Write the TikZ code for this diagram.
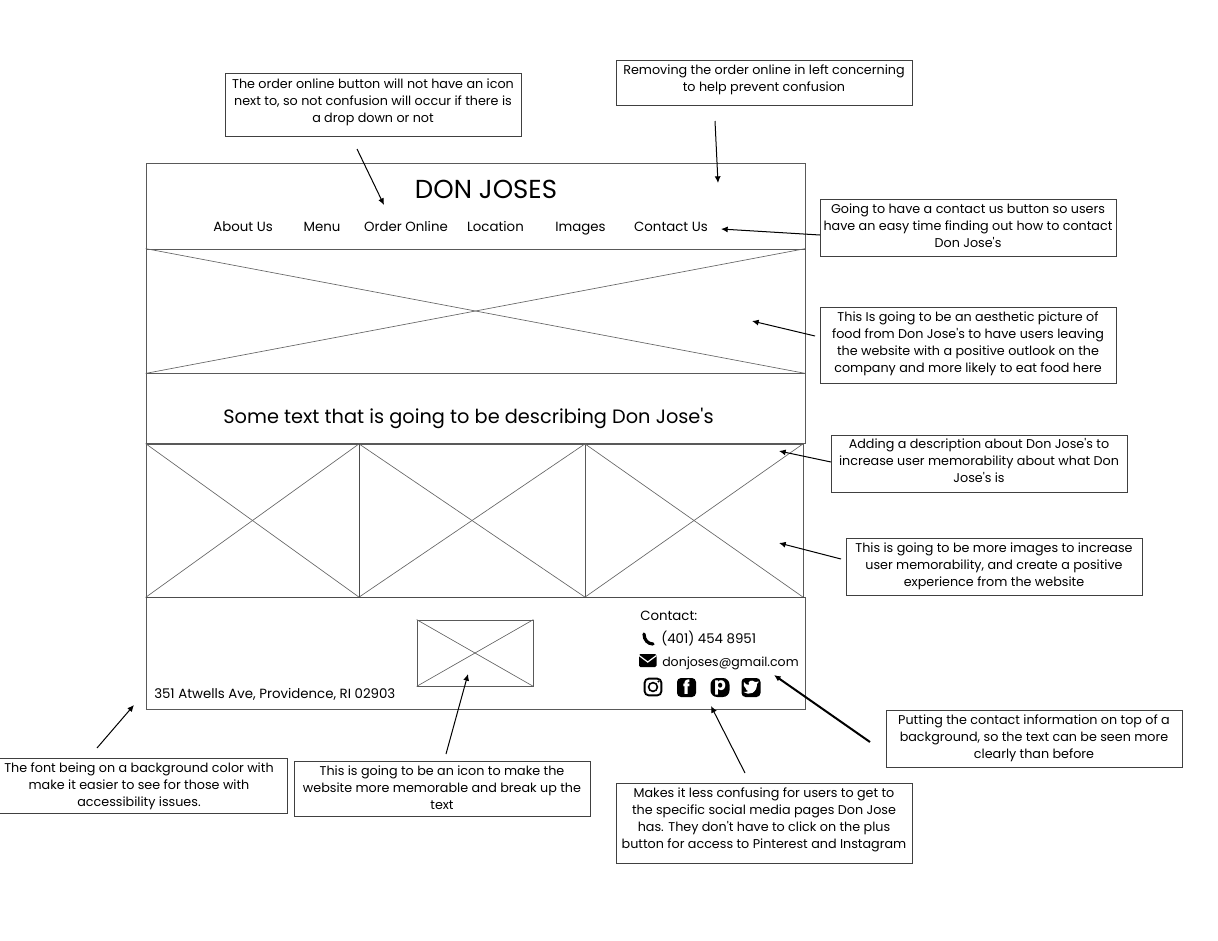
\documentclass[tikz,border=0pt]{standalone}
\usepackage{fontspec}
\setmainfont{Poppins}[Ligatures=TeXOff]
\usetikzlibrary{arrows.meta}
\tikzstyle{note} = [rectangle, draw=black!75, line width=0.45pt, inner sep=0pt, minimum width=222pt, align=center, text depth=7pt, font=\fontsize{9.55}{12.7}\selectfont, text=black]
\tikzstyle{panel} = [rectangle, draw=black!65, line width=0.6pt, inner sep=0pt]
\tikzstyle{crossline} = [draw=black!60, line width=0.5pt]
\tikzstyle{menuitem} = [inner sep=0pt, text height=8pt, text depth=2pt, font=\fontsize{10}{12}\selectfont]
\tikzstyle{contactitem} = [anchor=west, inner sep=0pt, text height=8pt, text depth=2pt, font=\fontsize{10}{12}\selectfont]
\tikzstyle{icon} = [rectangle, rounded corners=3pt, inner sep=0pt, minimum width=14.25pt, minimum height=14.25pt]
\tikzstyle{arrow} = [line width=0.75pt, -{Latex[length=5pt,width=4.5pt]}]
\begin{document}
\begin{tikzpicture}[x=0.75pt, y=-0.75pt]
    \useasboundingbox (0,0) rectangle (1218,940);
    % wireframe
    \node (header) [panel, minimum width=494.25pt, minimum height=64.5pt] at (475.5,206) {};
    \node (hero) [panel, minimum width=494.25pt, minimum height=93pt] at (475.5,311) {};
    \node (desc) [panel, minimum width=494.25pt, minimum height=52.5pt] at (475.5,408.5) {};
    \node (imga) [panel, minimum width=159.75pt, minimum height=114.75pt] at (252.5,520.5) {};
    \node (imgb) [panel, minimum width=169.5pt, minimum height=114.75pt] at (472,520.5) {};
    \node (imgc) [panel, minimum width=163.5pt, minimum height=114.75pt] at (694,520.5) {};
    \node (footer) [panel, minimum width=494.25pt, minimum height=84pt] at (475.5,653) {};
    \node (logo) [panel, minimum width=87pt, minimum height=49.5pt] at (475,653) {};
    \foreach \pic in {hero, imga, imgb, imgc, logo} {
        \draw[crossline] (\pic.north west) -- (\pic.south east);
        \draw[crossline] (\pic.south west) -- (\pic.north east);
    }
    \draw[line width=1pt, draw=black!70] (imga.south west) -- (imgc.south east -| footer.east);
    \draw[line width=0.8pt, draw=black!70] (imga.north east) -- (imga.south east);

    % texts in the wireframe
    \node (title) [inner sep=0pt, font=\fontsize{19.5}{22}\selectfont] at (486,189) {DON JOSES};
    \node (about) [menuitem] at (243,227.5) {About Us};
    \node (menu) [menuitem] at (322,227.5) {Menu};
    \node (order) [menuitem] at (406,227.5) {Order Online};
    \node (location) [menuitem] at (495.5,227.5) {Location};
    \node (images) [menuitem] at (580.5,227.5) {Images};
    \node (contactus) [menuitem] at (671,227.5) {Contact Us};
    \node (blurb) [inner sep=0pt, font=\fontsize{14.5}{18}\selectfont] at (468.5,418) {Some text that is going to be describing Don Jose's};
    \node (address) [contactitem] at (154,694) {351 Atwells Ave, Providence, RI 02903};
    \node (contact) [contactitem] at (640,616) {Contact:};
    \node (phone) [contactitem] at (661,639.5) {(401) 454 8951};
    \node (email) [contactitem, font=\fontsize{9.4}{12}\selectfont] at (662,662) {donjoses@gmail.com};

    % contact icons
    \draw[line width=2.4pt, line cap=round, black] (644,634) .. controls (644,640) and (648,644) .. (653,644);
    \fill[black, rounded corners=1pt] (639,654) rectangle (656.5,667);
    \draw[white, line width=0.9pt] (639,655.5) -- (647.75,662) -- (656.5,655.5);
    \node (insta) [icon, draw=black, line width=1.4pt, minimum width=12.5pt, minimum height=12.5pt] at (653,687) {};
    \draw[black, line width=1.2pt] (insta) circle (4.4);
    \fill[black] (658.5,681.5) circle (1.2);
    \node (fbook) [icon, fill=black, text=white, font=\fontsize{14}{14}\bfseries\selectfont] at (686.5,687.5) {f};
    \node (pin) [icon, rounded corners=5pt, fill=black, text=white, text height=7pt, text depth=2pt, font=\fontsize{13}{13}\bfseries\selectfont] at (720,687.5) {p};
    \node (bird) [icon, fill=black] at (751,687.5) {};
    \fill[white] (743.5,692) .. controls (749,696) and (757,693) .. (757,684) -- (759,681.5) -- (755,682) .. controls (752,679) and (747,681) .. (749,685) .. controls (747,685) and (745,684) .. (744,682) .. controls (743,685) and (744,687) .. (745.5,688) .. controls (746,690) and (747,691) .. (748.5,691) .. controls (747,692) and (745,692) .. (743.5,692) -- cycle;

    % notes
    \node (noteorder) [note, minimum height=47.25pt, text depth=5.5pt] at (373,104.5) {The order online button will not have an icon\\next to, so not confusion will occur if there is\\a drop down or not};
    \node (noteremove) [note, minimum height=33.75pt] at (764,82.5) {Removing the order online in left concerning\\to help prevent confusion};
    \node (notecontact) [note, minimum height=42.75pt, text depth=2.5pt] at (968,227.5) {Going to have a contact us button so users\\have an easy time finding out how to contact\\Don Jose's};
    \node (notefood) [note, minimum height=57pt, text depth=4pt] at (968,345) {This Is going to be an aesthetic picture of\\food from Don Jose's to have users leaving\\the website with a positive outlook on the\\company and more likely to eat food here};
    \node (notedesc) [note, minimum height=42.75pt, text depth=4pt] at (979,463.5) {Adding a description about Don Jose's to\\increase user memorability about what Don\\Jose's is};
    \node (noteimages) [note, minimum height=42.75pt, text depth=2.5pt] at (994,566.5) {This is going to be more images to increase\\user memorability, and create a positive\\experience from the website};
    \node (noteinfo) [note, minimum height=42.75pt, text depth=2.5pt] at (1034,738.5) {Putting the contact information on top of a\\background, so the text can be seen more\\clearly than before};
    \node (notesocial) [note, minimum height=60pt] at (764,823) {Makes it less confusing for users to get to\\the specific social media pages Don Jose\\has. They don't have to click on the plus\\button for access to Pinterest and Instagram};
    \node (noteicon) [note, minimum height=41.25pt, text depth=1pt] at (442,788.5) {This is going to be an icon to make the\\website more memorable and break up the\\text};
    \node (notefont) [note, minimum height=41.25pt, text depth=1pt] at (139,785.5) {The font being on a background color with\\make it easier to see for those with\\accessibility issues.};

    % arrow ends
    \coordinate (fromorder) at (357,149);
    \coordinate (toorder) at (384,205);
    \coordinate (fromremove) at (715,121);
    \coordinate (toremove) at (718,183);
    \coordinate (fromcontact) at (820,235);
    \coordinate (tocontact) at (721,229);
    \coordinate (fromfood) at (815,336);
    \coordinate (tofood) at (752,321);
    \coordinate (fromdesc) at (831,462);
    \coordinate (todesc) at (779,451);
    \coordinate (fromimages) at (841,559);
    \coordinate (toimages) at (779,543);
    \coordinate (frominfo) at (870,742);
    \coordinate (toinfo) at (774,675);
    \coordinate (fromsocial) at (745,773);
    \coordinate (tosocial) at (711,706);
    \coordinate (fromicon) at (446,754);
    \coordinate (toicon) at (468,674);
    \coordinate (fromfont) at (97,748);
    \coordinate (tofont) at (134,705);

    \draw[arrow] (fromorder) -- (toorder);
    \draw[arrow] (fromremove) -- (toremove);
    \draw[arrow] (fromcontact) -- (tocontact);
    \draw[arrow] (fromfood) -- (tofood);
    \draw[arrow] (fromdesc) -- (todesc);
    \draw[arrow] (fromimages) -- (toimages);
    \draw[arrow, line width=1.5pt] (frominfo) -- (toinfo);
    \draw[arrow] (fromsocial) -- (tosocial);
    \draw[arrow] (fromicon) -- (toicon);
    \draw[arrow] (fromfont) -- (tofont);
\end{tikzpicture}
\end{document}
